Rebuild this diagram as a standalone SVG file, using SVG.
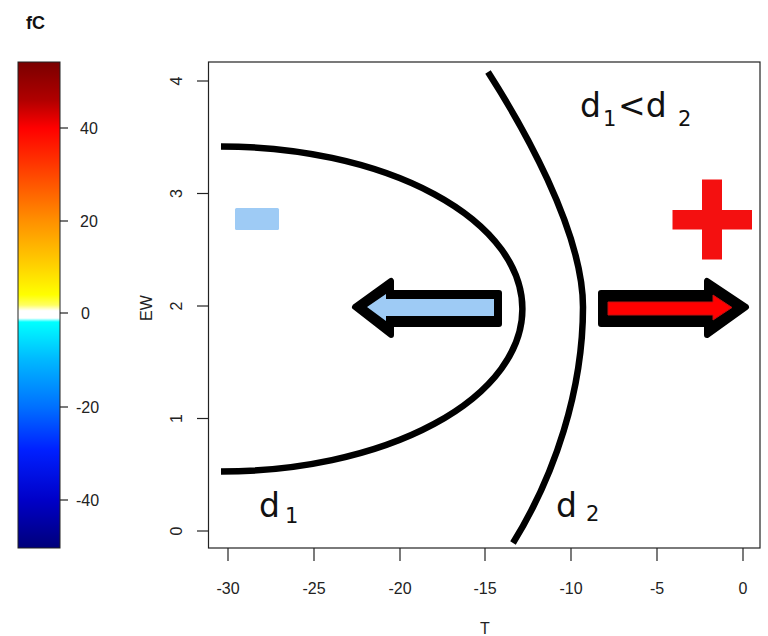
<svg xmlns="http://www.w3.org/2000/svg" width="768" height="636" viewBox="0 0 768 636">
  <style>
    .ax { font-family: "Liberation Sans", Arial, sans-serif; font-size: 16px; fill: #222; }
    .big { font-family: "DejaVu Sans", "Liberation Sans", sans-serif; font-size: 33px; fill: #111; }
    .sub { font-family: "DejaVu Sans", "Liberation Sans", sans-serif; font-size: 21px; fill: #111; }
    .tick { stroke: #222; stroke-width: 1.2; }
    .curve { fill: none; stroke: #000; stroke-width: 6.5; stroke-linecap: butt; }
    .outline { fill: #000; stroke: #000; stroke-width: 6; stroke-linejoin: round; }
  </style>
  <defs>
    <linearGradient id="pal" x1="0" y1="0" x2="0" y2="1">
      <stop offset="0" stop-color="#7a0000"/>
      <stop offset="0.078" stop-color="#b00000"/>
      <stop offset="0.136" stop-color="#ff0000"/>
      <stop offset="0.202" stop-color="#ff3000"/>
      <stop offset="0.327" stop-color="#ff9000"/>
      <stop offset="0.412" stop-color="#ffcc00"/>
      <stop offset="0.479" stop-color="#ffff00"/>
      <stop offset="0.5" stop-color="#ffff60"/>
      <stop offset="0.512" stop-color="#ffffff"/>
      <stop offset="0.527" stop-color="#ffffff"/>
      <stop offset="0.535" stop-color="#00ffff"/>
      <stop offset="0.613" stop-color="#00b8ff"/>
      <stop offset="0.71" stop-color="#0070ff"/>
      <stop offset="0.798" stop-color="#0020ff"/>
      <stop offset="0.901" stop-color="#0000c8"/>
      <stop offset="1" stop-color="#00007a"/>
    </linearGradient>
  </defs>
  <rect width="768" height="636" fill="#ffffff"/>

  <g id="colorbar">
    <text x="26" y="29" font-family="Liberation Sans, Arial, sans-serif" font-size="18" font-weight="bold" fill="#111">fC</text>
    <rect x="18" y="62" width="42" height="486" fill="url(#pal)" stroke="#222" stroke-width="1"/>
    <line class="tick" x1="60" y1="128" x2="68" y2="128"/>
    <line class="tick" x1="60" y1="221" x2="68" y2="221"/>
    <line class="tick" x1="60" y1="313" x2="68" y2="313"/>
    <line class="tick" x1="60" y1="407" x2="68" y2="407"/>
    <line class="tick" x1="60" y1="500" x2="68" y2="500"/>
    <text class="ax" x="80" y="134">40</text>
    <text class="ax" x="80" y="227">20</text>
    <text class="ax" x="81" y="319">0</text>
    <text class="ax" x="76" y="413">-20</text>
    <text class="ax" x="76" y="506">-40</text>
  </g>

  <g id="axes">
    <rect x="208.5" y="62" width="551.5" height="486" fill="none" stroke="#222" stroke-width="1.2"/>
    <line class="tick" x1="228" y1="548" x2="228" y2="561"/>
    <line class="tick" x1="314" y1="548" x2="314" y2="561"/>
    <line class="tick" x1="400" y1="548" x2="400" y2="561"/>
    <line class="tick" x1="485" y1="548" x2="485" y2="561"/>
    <line class="tick" x1="571" y1="548" x2="571" y2="561"/>
    <line class="tick" x1="657" y1="548" x2="657" y2="561"/>
    <line class="tick" x1="743" y1="548" x2="743" y2="561"/>
    <g class="ax" text-anchor="middle">
      <text x="228" y="594">-30</text>
      <text x="314" y="594">-25</text>
      <text x="400" y="594">-20</text>
      <text x="485" y="594">-15</text>
      <text x="571" y="594">-10</text>
      <text x="657" y="594">-5</text>
      <text x="743" y="594">0</text>
      <text x="485" y="634">T</text>
    </g>
    <line class="tick" x1="197" y1="81" x2="208.5" y2="81"/>
    <line class="tick" x1="197" y1="193.5" x2="208.5" y2="193.5"/>
    <line class="tick" x1="197" y1="306" x2="208.5" y2="306"/>
    <line class="tick" x1="197" y1="418.5" x2="208.5" y2="418.5"/>
    <line class="tick" x1="197" y1="531" x2="208.5" y2="531"/>
    <g class="ax" text-anchor="middle">
      <text transform="translate(182,81) rotate(-90)">4</text>
      <text transform="translate(182,193.5) rotate(-90)">3</text>
      <text transform="translate(182,306) rotate(-90)">2</text>
      <text transform="translate(182,418.5) rotate(-90)">1</text>
      <text transform="translate(182,531) rotate(-90)">0</text>
      <text transform="translate(152,308) rotate(-90)">EW</text>
    </g>
  </g>

  <g id="connectors">
    <path id="curve-d1" class="curve" d="M 221 146.5 A 301.5 162.5 0 0 1 221 471.5"/>
    <path id="curve-d2" class="curve" d="M 488 72 C 520 122 583 230 583 307 C 583 390 555 475 513 543"/>
  </g>

  <g id="minus-sign">
    <rect x="235" y="208" width="44" height="22" rx="1.5" fill="#9ecbf5"/>
  </g>

  <g id="plus-sign">
    <rect x="702" y="179.5" width="20" height="80" fill="#f41010"/>
    <rect x="672.5" y="210" width="79.5" height="19.5" fill="#f41010"/>
  </g>

  <g id="arrow-left">
    <polygon class="outline" points="355,307 391,281 391,293 499,293 499,324 391,324 391,335"/>
    <polygon fill="#9ecbf5" points="367,307 386,294 386,299 494,299 494,316 386,316 386,321"/>
  </g>

  <g id="arrow-right">
    <polygon class="outline" points="746,307 707,281 707,293 601,293 601,324 707,324 707,335"/>
    <polygon fill="#ff0000" stroke="#c01010" stroke-width="1" points="732,307.5 713,295 713,302 608,302 608,315 713,315 713,320"/>
  </g>

  <g id="labels">
    <text class="big"><tspan x="580" y="117">d</tspan><tspan class="sub" x="603" y="126">1</tspan><tspan x="618" y="117">&lt;d</tspan><tspan class="sub" x="678" y="126">2</tspan></text>
    <text class="big"><tspan x="259" y="517">d</tspan><tspan class="sub" x="285" y="523">1</tspan></text>
    <text class="big"><tspan x="556" y="517">d</tspan><tspan class="sub" x="586" y="521">2</tspan></text>
  </g>
</svg>
